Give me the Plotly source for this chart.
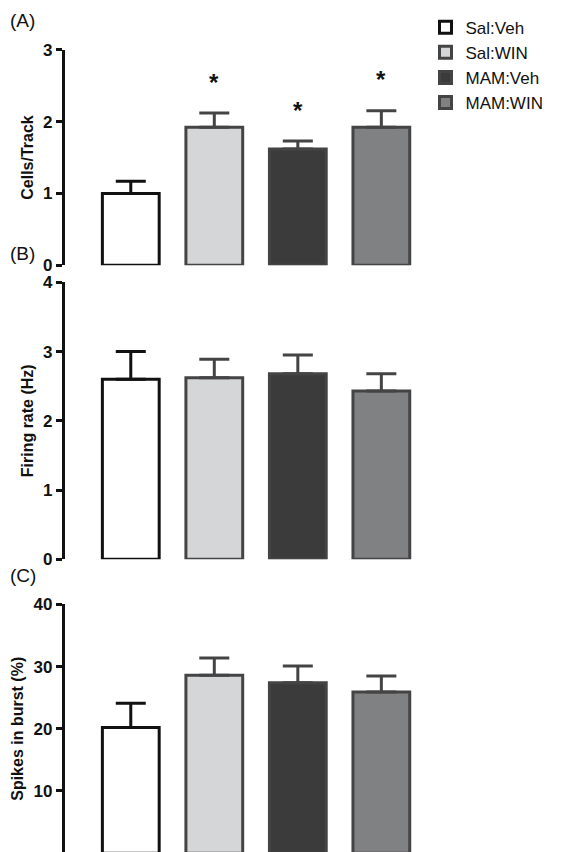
import plotly.graph_objects as go

groups = ["Sal:Veh", "Sal:WIN", "MAM:Veh", "MAM:WIN"]
fills = ["#ffffff", "#d5d6d8", "#3b3b3b", "#808183"]
edges = ["#111111", "#444444", "#444444", "#444444"]

cells_mean = [1.0, 1.92, 1.62, 1.92]
cells_err = [0.17, 0.20, 0.11, 0.23]
cells_sig = [False, True, True, True]

rate_mean = [2.60, 2.62, 2.68, 2.43]
rate_err = [0.40, 0.27, 0.27, 0.25]

burst_mean = [20.2, 28.6, 27.4, 25.9]
burst_err = [3.9, 2.8, 2.7, 2.6]

FONT = "Liberation Sans, Arial, sans-serif"

panels = [
    ("(A)", "Cells/Track", cells_mean, cells_err, [0, 3], 1, [0.698, 0.951]),
    ("(B)", "Firing rate (Hz)", rate_mean, rate_err, [0, 4], 1, [0.353, 0.678]),
    ("(C)", "Spikes in burst (%)", burst_mean, burst_err, [0, 40], 10, [0.008, 0.300]),
]

fig = go.Figure()
for p, (lab, title, mean, err, yr, dt, dom) in enumerate(panels):
    n = "" if p == 0 else str(p + 1)
    for i, g in enumerate(groups):
        fig.add_trace(go.Bar(
            x=[i], y=[mean[i]], name=g, showlegend=(p == 0),
            xaxis="x" + n, yaxis="y" + n, width=0.68,
            marker=dict(color=fills[i], line=dict(color=edges[i], width=3)),
            error_y=dict(type="data", array=[err[i]], arrayminus=[0], symmetric=False,
                         color=edges[i], thickness=3, width=15),
        ))
    fig.layout["xaxis" + n] = dict(domain=[0.1, 0.722], range=[-0.79, 3.44], visible=False,
                                   anchor="y" + n)
    fig.layout["yaxis" + n] = dict(
        domain=dom, range=yr, dtick=dt, anchor="x" + n, showgrid=False, zeroline=False,
        showline=True, linecolor="#111", linewidth=3, ticks="outside", ticklen=6,
        tickwidth=3, tickcolor="#111",
        tickfont=dict(family=FONT, size=17, color="#111", weight="bold"),
        title=dict(text="<b>" + title + "</b>", font=dict(family=FONT, size=16, color="#111"),
                   standoff=6),
    )
    fig.add_annotation(text=lab, xref="paper", yref="paper", x=0.0, y=dom[1] + 0.049,
                       xanchor="left", yanchor="top", showarrow=False,
                       font=dict(family=FONT, size=19, color="#111"))

for i, s in enumerate(cells_sig):
    if s:
        fig.add_annotation(text="<b>*</b>", x=i, y=cells_mean[i] + cells_err[i] + 0.43,
                           xref="x", yref="y", showarrow=False,
                           font=dict(family=FONT, size=24, color="#111"))

fig.update_layout(
    width=568, height=852, margin=dict(l=0, r=0, t=0, b=0, autoexpand=False),
    plot_bgcolor="white", paper_bgcolor="white", barmode="overlay",
    legend=dict(x=0.735, y=0.998, xanchor="left", yanchor="top", tracegroupgap=2,
                font=dict(family=FONT, size=17, color="#111")),
)
fig.write_html("out.html")
